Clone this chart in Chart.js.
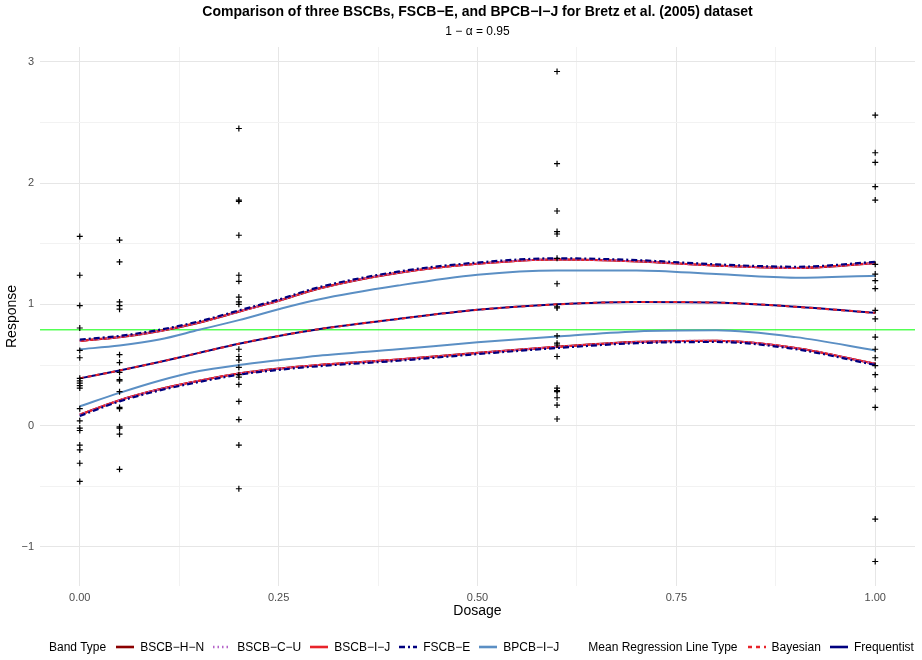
<!DOCTYPE html>
<html>
<head>
<meta charset="utf-8">
<script src="https://cdn.jsdelivr.net/npm/chart.js@4.4.1/dist/chart.umd.min.js"></script>
<style>
  html, body { margin: 0; padding: 0; background: #fff; }
  #wrap { position: relative; width: 922px; height: 660px; }
  #legend {
    position: absolute; left: 49px; top: 638px; height: 18px;
    display: flex; align-items: center; justify-content: flex-start;
    font: 12px "Liberation Sans", Arial, sans-serif; color: #000; white-space: nowrap;
  }
  #legend .grp { display: flex; align-items: center; }
  #legend .ttl { margin-right: 10px; }
  #legend .item { display: flex; align-items: center; margin-right: 9px; }
  #legend svg { margin-right: 6px; }
  #legend .gap { width: 20px; }
</style>
</head>
<body>
<div id="wrap">
  <canvas id="bandChart" width="922" height="660"></canvas>
  <div id="legend"></div>
</div>
<script>
// observed responses at each dose level
const doseLevels = [0, 0.05, 0.2, 0.6, 1];
const respDose0 = [1.56, 1.24, 0.99, 0.805, 0.62, 0.56, 0.39, 0.37, 0.35, 0.33, 0.31, 0.14, 0.04, -0.02, -0.04, -0.16, -0.20, -0.31, -0.46];
const respDose005 = [1.53, 1.35, 1.02, 0.99, 0.96, 0.585, 0.52, 0.44, 0.38, 0.37, 0.28, 0.15, 0.14, -0.01, -0.02, -0.07, -0.36];
const respDose02 = [2.45, 1.86, 1.85, 1.57, 1.24, 1.19, 1.06, 1.02, 1.0, 0.63, 0.57, 0.54, 0.48, 0.42, 0.40, 0.34, 0.20, 0.05, -0.16, -0.52];
const respDose06 = [2.92, 2.16, 1.77, 1.60, 1.58, 1.38, 1.17, 0.98, 0.97, 0.74, 0.68, 0.665, 0.57, 0.31, 0.29, 0.28, 0.23, 0.17, 0.055];
const respDose1 = [2.56, 2.25, 2.17, 1.97, 1.86, 1.33, 1.25, 1.195, 1.13, 0.95, 0.88, 0.73, 0.63, 0.56, 0.495, 0.42, 0.30, 0.15, -0.77, -1.12];
const responsesByDose = [respDose0, respDose005, respDose02, respDose06, respDose1];

// band and mean curves, read at these dosages
const curveDose = [0, 0.05, 0.1, 0.15, 0.2, 0.25, 0.3, 0.4, 0.5, 0.6, 0.7, 0.8, 0.9, 1.0];
const bscbUpper = [0.70, 0.73, 0.78, 0.85, 0.94, 1.03, 1.13, 1.26, 1.335, 1.37, 1.355, 1.32, 1.30, 1.34];
const bscbLower = [0.09, 0.21, 0.30, 0.37, 0.43, 0.47, 0.50, 0.545, 0.60, 0.65, 0.69, 0.70, 0.64, 0.51];
const fscbUpper = [0.71, 0.74, 0.79, 0.86, 0.95, 1.04, 1.14, 1.27, 1.345, 1.38, 1.365, 1.33, 1.31, 1.35];
const fscbLower = [0.08, 0.20, 0.29, 0.36, 0.42, 0.46, 0.49, 0.535, 0.59, 0.64, 0.68, 0.69, 0.63, 0.50];
const bpcbUpper = [0.63, 0.66, 0.71, 0.79, 0.87, 0.96, 1.04, 1.155, 1.245, 1.28, 1.28, 1.25, 1.22, 1.237];
const bpcbLower = [0.16, 0.27, 0.37, 0.45, 0.50, 0.54, 0.577, 0.63, 0.687, 0.736, 0.777, 0.786, 0.73, 0.62];
const meanBayes = [0.39, 0.455, 0.525, 0.60, 0.675, 0.74, 0.795, 0.88, 0.955, 1.0, 1.02, 1.015, 0.98, 0.93];
const meanFreq = [0.39, 0.455, 0.525, 0.60, 0.675, 0.74, 0.795, 0.88, 0.955, 1.0, 1.02, 1.015, 0.98, 0.93];

const thresholdValue = 0.79;

const xMajor = [0, 0.25, 0.5, 0.75, 1];
const xMinor = [0.125, 0.375, 0.625, 0.875];
const yMajor = [-1, 0, 1, 2, 3];
const yMinor = [-0.5, 0.5, 1.5, 2.5];
const xRange = [-0.05, 1.05];
const yRange = [-1.322, 3.122];

const FONT = '"Liberation Sans", Arial, sans-serif';

function curve(vals) {
  return curveDose.map((d, i) => ({ x: d, y: vals[i] }));
}

const obsPoints = [];
doseLevels.forEach((d, i) => {
  responsesByDose[i].forEach(v => obsPoints.push({ x: d, y: v }));
});

const bandStyles = [
  { label: 'BSCB\u2212H\u2212N', color: '#8B0000', dash: [], width: 2.2 },
  { label: 'BSCB\u2212C\u2212U', color: '#B565C9', dash: [1.5, 3], width: 2 },
  { label: 'BSCB\u2212I\u2212J', color: '#E8232A', dash: [], width: 2 },
  { label: 'FSCB\u2212E', color: '#00007F', dash: [6, 3, 2, 3], width: 2.2 },
  { label: 'BPCB\u2212I\u2212J', color: '#5B8FC4', dash: [], width: 2 }
];
const meanStyles = [
  { label: 'Bayesian', color: '#E8232A', dash: [4, 4], width: 2 },
  { label: 'Frequentist', color: '#00007F', dash: [], width: 2 }
];

function lineSet(data, st, order) {
  return {
    type: 'line', data: curve(data), borderColor: st.color, borderDash: st.dash,
    borderWidth: st.width, pointRadius: 0, cubicInterpolationMode: 'monotone', fill: false, order: order
  };
}

const datasets = [
  {
    type: 'scatter', data: obsPoints, pointStyle: 'cross', pointRadius: 3,
    borderColor: '#000', borderWidth: 1.2, backgroundColor: '#000', order: 0
  },
  lineSet(meanBayes, meanStyles[0], 1),
  lineSet(meanFreq, meanStyles[1], 2),
  lineSet(fscbUpper, bandStyles[3], 3),
  lineSet(fscbLower, bandStyles[3], 3),
  lineSet(bscbUpper, bandStyles[1], 4),
  lineSet(bscbLower, bandStyles[1], 4),
  lineSet(bscbUpper, bandStyles[2], 5),
  lineSet(bscbLower, bandStyles[2], 5),
  lineSet(bscbUpper, bandStyles[0], 6),
  lineSet(bscbLower, bandStyles[0], 6),
  lineSet(bpcbUpper, bandStyles[4], 7),
  lineSet(bpcbLower, bandStyles[4], 7),
  {
    type: 'line', data: [{ x: xRange[0], y: thresholdValue }, { x: xRange[1], y: thresholdValue }],
    borderColor: '#00FF00', borderWidth: 1, pointRadius: 0, order: 8
  }
];

const titlePlugin = {
  id: 'panelTitle',
  afterDraw(chart) {
    const c = chart.ctx;
    const cx = (chart.chartArea.left + chart.chartArea.right) / 2;
    c.save();
    c.fillStyle = '#000';
    c.textAlign = 'center';
    c.textBaseline = 'middle';
    c.font = 'bold 14px ' + FONT;
    c.fillText('Comparison of three BSCBs, FSCB\u2212E, and BPCB\u2212I\u2212J for Bretz et al. (2005) dataset', cx, 12);
    c.font = '12px ' + FONT;
    c.fillText('1 \u2212 \u03B1 = 0.95', cx, 32);
    c.restore();
  }
};

function gridColor(majors) {
  return c => (c.tick && majors.includes(c.tick.value)) ? '#E6E6E6' : '#F2F2F2';
}

new Chart(document.getElementById('bandChart'), {
  data: { datasets: datasets },
  plugins: [titlePlugin],
  options: {
    responsive: false,
    animation: false,
    layout: { padding: { top: 47, right: 7, bottom: 40, left: 0 } },
    plugins: { legend: { display: false }, tooltip: { enabled: false } },
    scales: {
      x: {
        type: 'linear', min: xRange[0], max: xRange[1],
        afterBuildTicks: s => { s.ticks = xMajor.concat(xMinor).sort((a, b) => a - b).map(v => ({ value: v })); },
        afterFit: s => { s.height = 34; },
        ticks: {
          color: '#4D4D4D', font: { family: FONT, size: 11 }, padding: 5, maxRotation: 0, autoSkip: false,
          callback: v => xMajor.includes(v) ? v.toFixed(2) : ''
        },
        grid: { color: gridColor(xMajor), lineWidth: 1, drawTicks: false },
        border: { display: false },
        title: { display: true, text: 'Dosage', color: '#000', font: { family: FONT, size: 14 }, padding: { top: 0, bottom: 0 } }
      },
      y: {
        type: 'linear', min: yRange[0], max: yRange[1],
        afterBuildTicks: s => { s.ticks = yMajor.concat(yMinor).sort((a, b) => a - b).map(v => ({ value: v })); },
        afterFit: s => { s.width = 40; },
        ticks: {
          color: '#4D4D4D', font: { family: FONT, size: 11 }, padding: 6, autoSkip: false,
          callback: v => yMajor.includes(v) ? String(v).replace('-', '\u2212') : ''
        },
        grid: { color: gridColor(yMajor), lineWidth: 1, drawTicks: false },
        border: { display: false },
        title: { display: true, text: 'Response', color: '#000', font: { family: FONT, size: 14 }, padding: { top: 4, bottom: 0 } }
      }
    }
  }
});

// ggplot-style legend underneath, two groups
function keySvg(st) {
  const dash = st.dash.length ? ` stroke-dasharray="${st.dash.join(' ')}"` : '';
  return `<svg width="18" height="10"><line x1="0" y1="5" x2="18" y2="5" stroke="${st.color}" stroke-width="2.6"${dash}/></svg>`;
}
function group(title, styles) {
  return `<div class="grp"><span class="ttl">${title}</span>` +
    styles.map(s => `<span class="item">${keySvg(s)}<span>${s.label}</span></span>`).join('') + '</div>';
}
document.getElementById('legend').innerHTML =
  group('Band Type', bandStyles) + '<div class="gap"></div>' + group('Mean Regression Line Type', meanStyles);
</script>
</body>
</html>
